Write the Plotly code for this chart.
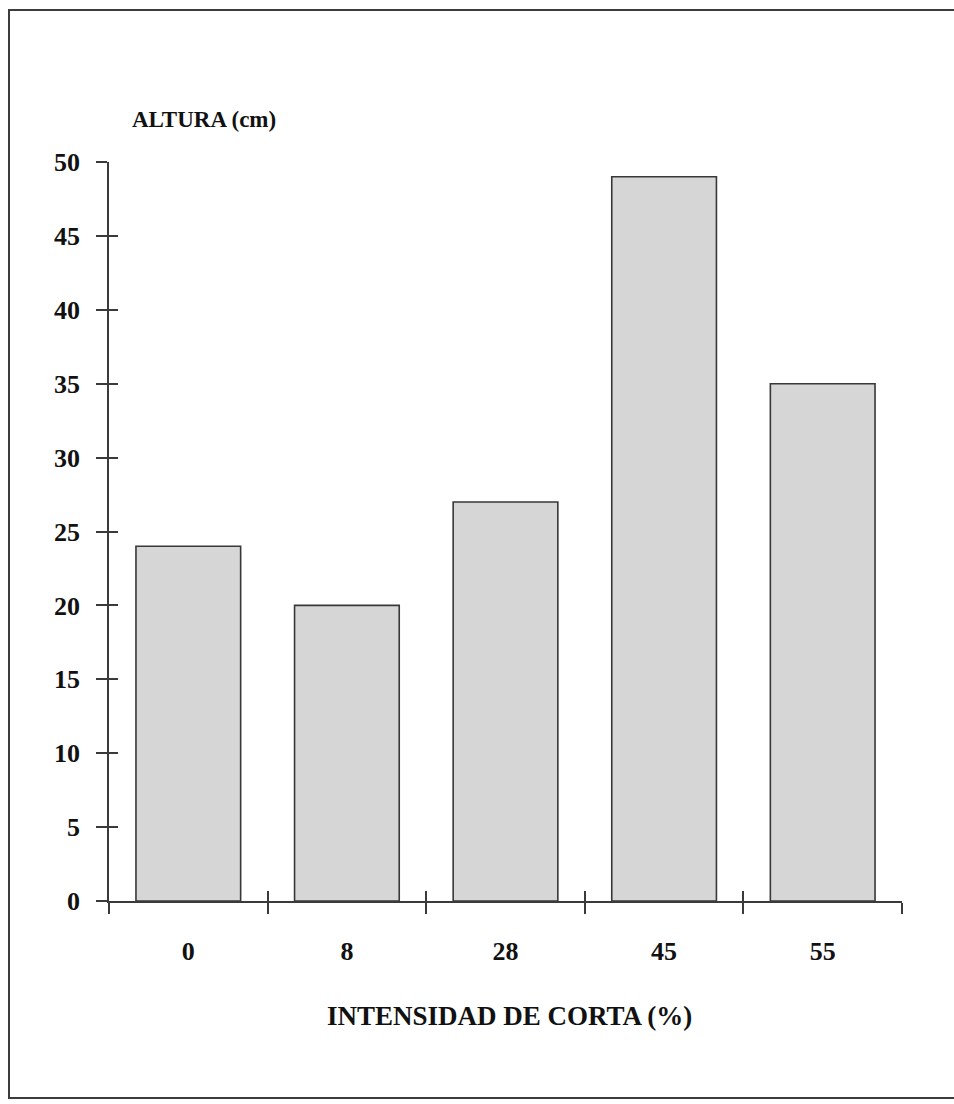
import plotly.graph_objects as go

categories = ["0", "8", "28", "45", "55"]
altura = [24, 20, 27, 49, 35]
y_ticks = [0, 5, 10, 15, 20, 25, 30, 35, 40, 45, 50]

FONT = "Liberation Serif"
AX = "#3a3a3a"
W, H = 954, 1104
L, R, T, B = 109, 52, 162, 203

fig = go.Figure()
fig.add_trace(go.Bar(
    x=categories, y=altura, width=0.66,
    marker=dict(color="#d6d6d6", line=dict(color="#383838", width=1.6)),
    hoverinfo="skip", showlegend=False,
))
# transparent twin trace, only to carry the inner half of the crossing ticks
fig.add_trace(go.Bar(
    x=categories, y=altura, width=0.66, xaxis="x2", yaxis="y2",
    marker=dict(color="rgba(0,0,0,0)", line=dict(width=0)),
    hoverinfo="skip", showlegend=False,
))

tickfont = dict(family=FONT, size=26, color="#111111", weight="bold")
fig.update_layout(
    width=W, height=H,
    margin=dict(l=L, r=R, t=T, b=B, pad=0),
    paper_bgcolor="white", plot_bgcolor="white",
    bargap=0.34,
    xaxis=dict(
        type="category", categoryorder="array", categoryarray=categories,
        range=[-0.5, 4.5], tickson="boundaries",
        ticks="outside", ticklen=11, tickwidth=1.5, tickcolor=AX,
        showline=True, linecolor=AX, linewidth=1.5,
        showgrid=False, zeroline=False,
        tickfont=tickfont, ticklabelstandoff=26,
    ),
    xaxis2=dict(
        type="category", categoryorder="array", categoryarray=categories,
        matches="x", overlaying="x", range=[-0.5, 4.5], tickson="boundaries",
        ticks="inside", ticklen=10, tickwidth=1.5, tickcolor=AX,
        showticklabels=False, showline=False, showgrid=False, zeroline=False,
    ),
    yaxis=dict(
        range=[0, 50], tickvals=y_ticks,
        ticks="outside", ticklen=11, tickwidth=1.5, tickcolor=AX,
        showline=True, linecolor=AX, linewidth=1.5,
        showgrid=False, zeroline=False,
        tickfont=tickfont, ticklabelstandoff=11,
    ),
    yaxis2=dict(
        range=[0, 50], tickvals=y_ticks, matches="y", overlaying="y", side="left",
        ticks="inside", ticklen=9, tickwidth=1.5, tickcolor=AX,
        showticklabels=False, showline=False, showgrid=False, zeroline=False,
    ),
)

pw, ph = W - L - R, H - T - B


def px(xp):
    return (xp - L) / pw


def py(yp):
    return (H - B - yp) / ph


fig.add_annotation(
    text="<b>ALTURA (cm)</b>", xref="paper", yref="paper",
    x=px(130), y=py(119), xanchor="left", yanchor="middle", showarrow=False,
    font=dict(family=FONT, size=23, color="#111111"),
)
fig.add_annotation(
    text="<b>INTENSIDAD DE CORTA (%)</b>", xref="paper", yref="paper",
    x=px(509), y=py(1016), xanchor="center", yanchor="middle", showarrow=False,
    font=dict(family=FONT, size=27, color="#111111"),
)
# outer frame of the figure (its right edge runs off the picture)
fig.add_shape(
    type="rect", xref="paper", yref="paper",
    x0=px(9), x1=px(1020), y0=py(1098), y1=py(10),
    line=dict(color="#3c3c3c", width=2), fillcolor="rgba(0,0,0,0)", layer="below",
)

fig.write_html(
    "out.html",
    config={"displayModeBar": False},
    post_script="document.body.style.margin='0px';document.body.style.overflow='hidden';",
)
